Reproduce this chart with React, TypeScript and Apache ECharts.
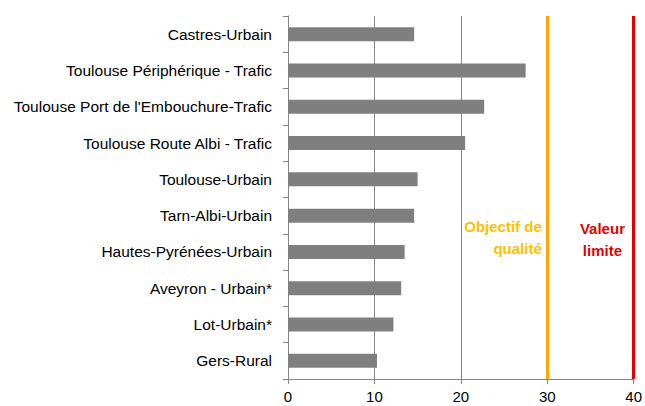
import React, { useEffect, useRef } from "react";
import * as echarts from "echarts";

const categories = [
  "Castres-Urbain",
  "Toulouse Périphérique - Trafic",
  "Toulouse Port de l'Embouchure-Trafic",
  "Toulouse Route Albi - Trafic",
  "Toulouse-Urbain",
  "Tarn-Albi-Urbain",
  "Hautes-Pyrénées-Urbain",
  "Aveyron - Urbain*",
  "Lot-Urbain*",
  "Gers-Rural",
];
const values = [14.6, 27.5, 22.7, 20.5, 15.0, 14.6, 13.5, 13.1, 12.2, 10.3];
const objectifQualite = 30;
const valeurLimite = 40;
const xTicks = { min: 0, max: 40, interval: 10 };

const FONT = "'Liberation Sans', Arial, sans-serif";

export default function App() {
  const ref = useRef<HTMLDivElement>(null);
  useEffect(() => {
    if (!ref.current) return;
    const chart = echarts.init(ref.current, null, { renderer: "svg" });
    const option: any = {
      animation: false,
      grid: { left: 288, right: 8, top: 16, bottom: 27, containLabel: false },
      xAxis: {
        type: "value",
        min: xTicks.min,
        max: xTicks.max,
        interval: xTicks.interval,
        axisLine: { show: true, lineStyle: { color: "#868686", width: 1 } },
        axisTick: { show: true, length: 5, lineStyle: { color: "#868686" } },
        axisLabel: { color: "#000", fontSize: 15, fontFamily: FONT, margin: 10 },
        splitLine: { show: true, lineStyle: { color: "#868686", width: 1 } },
      },
      yAxis: {
        type: "category",
        data: categories,
        inverse: true,
        axisLine: { show: true, lineStyle: { color: "#868686", width: 1 } },
        axisTick: { show: true, length: 5, lineStyle: { color: "#868686" } },
        axisLabel: { color: "#000", fontSize: 15.5, fontFamily: FONT, margin: 16 },
        splitLine: { show: false },
      },
      series: [
        {
          type: "bar",
          data: values,
          barWidth: 14,
          itemStyle: { color: "#7f7f7f" },
          markLine: {
            silent: true,
            symbol: "none",
            label: { show: false },
            data: [
              { xAxis: objectifQualite, lineStyle: { color: "#FFA500", width: 3, type: "solid" } },
              { xAxis: valeurLimite, lineStyle: { color: "#E00000", width: 3, type: "solid" } },
            ],
          },
        },
      ],
    };
    chart.setOption(option);
    const x30 = chart.convertToPixel({ xAxisIndex: 0 }, objectifQualite) as number;
    const x40 = chart.convertToPixel({ xAxisIndex: 0 }, valeurLimite) as number;
    chart.setOption({
      graphic: [
        {
          type: "text",
          x: x30 - 5.5,
          y: 215,
          style: {
            text: "Objectif de\nqualité",
            fill: "#FFC000",
            font: `bold 15px ${FONT}`,
            align: "right",
            lineHeight: 22,
          },
        },
        {
          type: "text",
          x: (x30 + x40) / 2 + 12,
          y: 217,
          style: {
            text: "Valeur\nlimite",
            fill: "#E00000",
            font: `bold 15px ${FONT}`,
            align: "center",
            lineHeight: 22,
          },
        },
      ],
    });
    return () => chart.dispose();
  }, []);
  return (
    <div
      ref={ref}
      style={{ position: "fixed", left: 0, top: 0, width: 645, height: 406, background: "#fff" }}
    />
  );
}
